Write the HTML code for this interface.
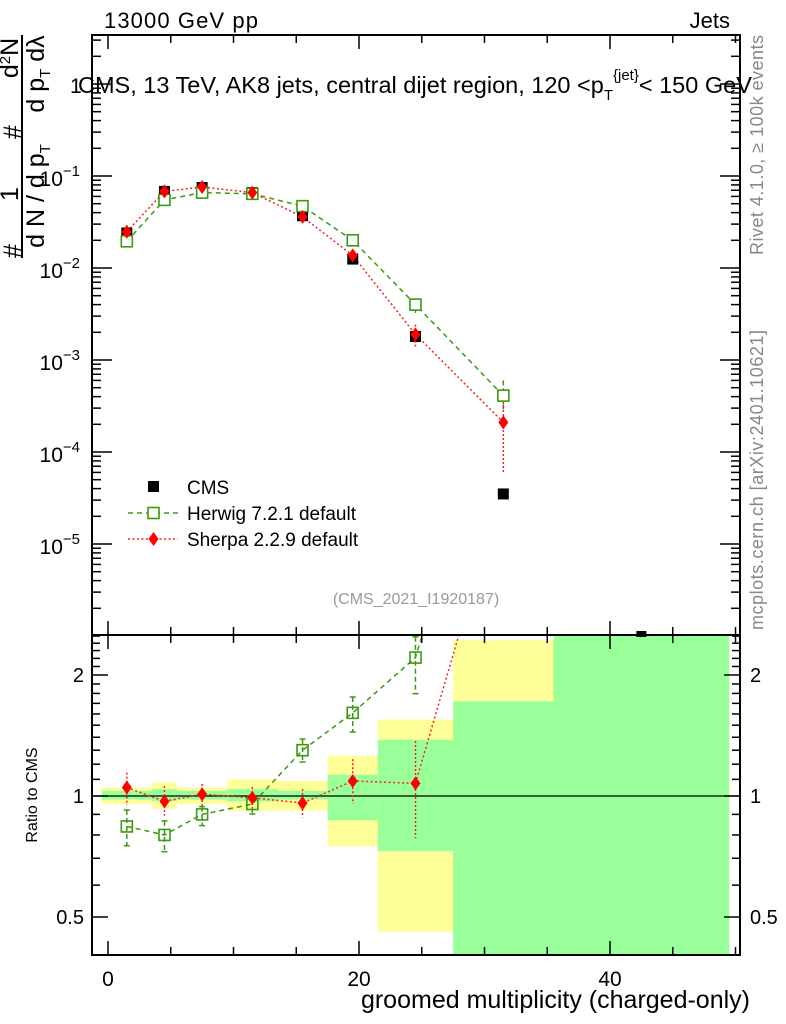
<!DOCTYPE html>
<html><head><meta charset="utf-8"><style>
body{margin:0;background:#fff;}
svg{display:block;font-family:"Liberation Sans",sans-serif;}
</style></head><body>
<svg id="c" width="786" height="1024" viewBox="0 0 786 1024"></svg>
<script>
const binEdges=[-0.5,3.5,5.5,9.5,13.5,17.5,21.5,27.5,35.5,49.5];
const centers=[1.5,4.5,7.5,11.5,15.5,19.5,24.5,31.5];
const cmsVals=[0.024,0.068,0.075,0.066,0.037,0.0125,0.0018,0.000035];
const herwigVals=[0.0195,0.055,0.066,0.064,0.047,0.020,0.0040,0.00041];
const sherpaVals=[0.0248,0.068,0.076,0.066,0.036,0.0137,0.0019,0.00021];
const herwigRatio=[0.84,0.80,0.90,0.955,1.30,1.61,2.21];
const herwigRatioHi=[0.923,0.867,0.941,0.977,1.386,1.763,2.49];
const herwigRatioLo=[0.752,0.727,0.844,0.902,1.215,1.443,1.797];
const sherpaRatio=[1.05,0.97,1.01,0.99,0.96,1.09,1.075];
const sherpaRatioHi=[1.143,1.059,1.071,1.053,1.041,1.234,1.37];
const sherpaRatioLo=[0.95,0.893,0.932,0.932,0.885,0.957,0.785];
const herwigMainHi=[0.00060];const herwigMainLo=[0.00028];
const sherpaMainHi=[0.00035];const sherpaMainLo=[0.00006];
const bandYellowHi=[1.05,1.08,1.05,1.10,1.09,1.26,1.55,2.44,3];
const bandYellowLo=[0.955,0.93,0.955,0.92,0.92,0.75,0.46,0.3,0.3];
const bandGreenHi=[1.03,1.04,1.03,1.04,1.03,1.13,1.38,1.72,3];
const bandGreenLo=[0.98,0.97,0.98,0.97,0.98,0.87,0.73,0.3,0.3];
const xTickLabels=[0,20,40];
const yTickDecades=[-1,-2,-3,-4,-5];
const ratioTickLabels=[0.5,1,2];

const NS="http://www.w3.org/2000/svg";
const svg=document.getElementById('c');
function el(t,a,p){const e=document.createElementNS(NS,t);for(const k in a)e.setAttribute(k,a[k]);(p||svg).appendChild(e);return e;}
const L=92,R=740,T=35,M=635,B=955;
const xs=u=>108+u*12.55;
const ym=v=>176-(Math.log10(v)+1)*92;
const yr=r=>796-Math.log2(r)*121;

const defs=el('defs',{});
const c1=el('clipPath',{id:'cm'},defs);el('rect',{x:L,y:T,width:R-L,height:M-T},c1);
const c2=el('clipPath',{id:'cr'},defs);el('rect',{x:L,y:M,width:R-L,height:B-M},c2);

const gR=el('g',{'clip-path':'url(#cr)'});


for(let i=0;i<binEdges.length-1;i++){
  const x0=xs(binEdges[i]),x1=xs(binEdges[i+1]);
  const y=el('rect',{x:x0,y:yr(bandYellowHi[i]),width:x1-x0,height:yr(bandYellowLo[i])-yr(bandYellowHi[i]),fill:'#ffff99'},gR);
  
  
  const g=el('rect',{x:x0,y:yr(bandGreenHi[i]),width:x1-x0,height:yr(bandGreenLo[i])-yr(bandGreenHi[i]),fill:'#99ff99'},gR);
  
  
}
el('line',{x1:L,x2:R,y1:yr(1),y2:yr(1),stroke:'#000','stroke-width':1.3},gR);

function diamond(g,x,y,s,fill){return el('path',{d:`M${x} ${y-s*1.4}L${x+s} ${y}L${x} ${y+s*1.4}L${x-s} ${y}Z`,fill:fill},g);}
function openSq(g,x,y,col){return el('rect',{x:x-5.5,y:y-5.5,width:11,height:11,fill:'none',stroke:col,'stroke-width':1.6},g);}

const herR=[...herwigRatio, herwigVals[7]/cmsVals[7]];
const sheR=[...sherpaRatio, sherpaVals[7]/cmsVals[7]];
let p=el('polyline',{points:herR.map((r,i)=>xs(centers[i])+','+yr(r)).join(' '),fill:'none',stroke:'#3a9a10','stroke-width':1.5,'stroke-dasharray':'5,4'},gR);

p=el('polyline',{points:sheR.map((r,i)=>xs(centers[i])+','+yr(r)).join(' '),fill:'none',stroke:'#ff2020','stroke-width':1.5,'stroke-dasharray':'2,2.5'},gR);

herwigRatio.forEach((r,i)=>{
  const x=xs(centers[i]);
  el('line',{x1:x,x2:x,y1:yr(herwigRatioHi[i]),y2:yr(herwigRatioLo[i]),stroke:'#3a9a10','stroke-width':1.5,'stroke-dasharray':'5,3'},gR);
  el('line',{x1:x-3,x2:x+3,y1:yr(herwigRatioHi[i]),y2:yr(herwigRatioHi[i]),stroke:'#3a9a10','stroke-width':1.5},gR);
  el('line',{x1:x-3,x2:x+3,y1:yr(herwigRatioLo[i]),y2:yr(herwigRatioLo[i]),stroke:'#3a9a10','stroke-width':1.5},gR);
  const m=openSq(gR,x,yr(r),'#3a9a10');
  
});
sherpaRatio.forEach((r,i)=>{
  const x=xs(centers[i]);
  el('line',{x1:x,x2:x,y1:yr(sherpaRatioHi[i]),y2:yr(sherpaRatioLo[i]),stroke:'#ff2020','stroke-width':1.5,'stroke-dasharray':'2,2'},gR);
  const m=diamond(gR,x,yr(r),5,'#ff0000');
  
});

const gM=el('g',{'clip-path':'url(#cm)'});


p=el('polyline',{points:herwigVals.map((v,i)=>xs(centers[i])+','+ym(v)).join(' '),fill:'none',stroke:'#3a9a10','stroke-width':1.5,'stroke-dasharray':'5,4'},gM);

p=el('polyline',{points:sherpaVals.map((v,i)=>xs(centers[i])+','+ym(v)).join(' '),fill:'none',stroke:'#ff2020','stroke-width':1.5,'stroke-dasharray':'2,2.5'},gM);

cmsVals.forEach((v,i)=>{
  const m=el('rect',{x:xs(centers[i])-5.5,y:ym(v)-5.5,width:11,height:11,fill:'#000'},gM);
  
});
herwigVals.forEach((v,i)=>{
  const x=xs(centers[i]);
  const hi=i<7?v*herwigRatioHi[i]/herwigRatio[i]:herwigMainHi[0];
  const lo=i<7?v*herwigRatioLo[i]/herwigRatio[i]:herwigMainLo[0];
  el('line',{x1:x,x2:x,y1:ym(hi),y2:ym(lo),stroke:'#3a9a10','stroke-width':1.5,'stroke-dasharray':'5,3'},gM);
  const m=el('rect',{x:x-5.5,y:ym(v)-5.5,width:11,height:11,fill:'#fff',stroke:'#3a9a10','stroke-width':1.6},gM);
  
});
sherpaVals.forEach((v,i)=>{
  const x=xs(centers[i]);
  const hi=i<7?v*sherpaRatioHi[i]/sherpaRatio[i]:sherpaMainHi[0];
  const lo=i<7?v*sherpaRatioLo[i]/sherpaRatio[i]:sherpaMainLo[0];
  el('line',{x1:x,x2:x,y1:ym(hi),y2:ym(lo),stroke:'#ff2020','stroke-width':1.5,'stroke-dasharray':'2,2'},gM);
  const m=diamond(gM,x,ym(v),5,'#ff0000');
  
});
let lp=el('rect',{x:xs(42.5)-5,y:M-4,width:10,height:6,fill:'#000'});


let f1=el('rect',{x:L,y:T,width:R-L,height:M-T,fill:'none',stroke:'#000','stroke-width':2});

let f2=el('rect',{x:L,y:M,width:R-L,height:B-M,fill:'none',stroke:'#000','stroke-width':2});


for(let u=0;u<=50;u+=5){
  const x=xs(u),len=u%20===0?14:8;
  [[T,1],[M,-1],[M,1],[B,-1]].forEach(([y,d])=>el('line',{x1:x,x2:x,y1:y,y2:y+d*len,stroke:'#000','stroke-width':1.5}));
}
xTickLabels.forEach(u=>{const t=el('text',{x:xs(u),y:986,'font-size':21,'text-anchor':'middle'});t.textContent=u;
});

for(let d=0;d>=-6;d--){
  for(let k=1;k<10;k++){
    const y=ym(k*Math.pow(10,d));
    if(y<T||y>M)continue;
    const len=k===1?20:9;
    el('line',{x1:L,x2:L+len,y1:y,y2:y,stroke:'#000','stroke-width':1.5});
    el('line',{x1:R,x2:R-len,y1:y,y2:y,stroke:'#000','stroke-width':1.5});
  }
}
yTickDecades.forEach(d=>{
  const t=el('text',{x:80,y:ym(Math.pow(10,d))+10,'font-size':21,'text-anchor':'end'});
  t.innerHTML='10<tspan dy="-10" font-size="15">−'+(-d)+'</tspan>';
  
});
let one=el('text',{x:70,y:93,'font-size':21});one.textContent='1';


[0.4,0.5,0.6,0.7,0.8,0.9,1,1.1,1.2,1.3,1.4,1.5,1.6,1.7,1.8,1.9,2,2.1,2.2,2.3,2.4,2.5].forEach(r=>{
  const y=yr(r);if(y<M||y>B)return;
  const len=(r===0.5||r===1||r===2)?16:8;
  el('line',{x1:L,x2:L+len,y1:y,y2:y,stroke:'#000','stroke-width':1.5});
  el('line',{x1:R,x2:R-len,y1:y,y2:y,stroke:'#000','stroke-width':1.5});
});
ratioTickLabels.forEach(r=>{
  const t=el('text',{x:84,y:yr(r)+7,'font-size':20,'text-anchor':'end'});t.textContent=r;
  
  const t2=el('text',{x:750,y:yr(r)+7,'font-size':20});t2.textContent=r;
  
});
</script>
<svg width="786" height="1024" style="position:absolute;left:0;top:0" font-family="Liberation Sans, sans-serif">
<text x="104" y="28" font-size="22" textLength="154">13000 GeV pp</text>
<text x="730" y="28" font-size="22" text-anchor="end">Jets</text>
<text x="78" y="93" font-size="23.5">CMS, 13 TeV, AK8 jets, central dijet region, 120 &lt;p<tspan dy="7" font-size="15">T</tspan><tspan dy="-20" font-size="15">{jet}</tspan><tspan dy="13">&lt; 150 GeV</tspan></text>
<text transform="translate(763,255) rotate(-90)" font-size="18" fill="#888" textLength="220">Rivet 4.1.0, ≥ 100k events</text>
<text transform="translate(763,630) rotate(-90)" font-size="18" fill="#888" textLength="300">mcplots.cern.ch [arXiv:2401.10621]</text>
<text x="416" y="604" font-size="16" fill="#999" text-anchor="middle">(CMS_2021_I1920187)</text>
<g font-size="19">
<rect x="148" y="481" width="11" height="11" fill="#000"/>
<text x="187" y="494">CMS</text>
<line x1="128" x2="178" y1="513" y2="513" stroke="#3a9a10" stroke-width="1.5" stroke-dasharray="5,4"/>
<rect x="148" y="507.5" width="11" height="11" fill="#fff" stroke="#3a9a10" stroke-width="1.6"/>
<text x="187" y="520">Herwig 7.2.1 default</text>
<line x1="128" x2="178" y1="539" y2="539" stroke="#ff2020" stroke-width="1.5" stroke-dasharray="2,2.5"/>
<path d="M153.5 532L158.5 539L153.5 546L148.5 539Z" fill="#ff0000"/>
<text x="187" y="546">Sherpa 2.2.9 default</text>
</g>
<text x="750" y="1008" font-size="25" text-anchor="end">groomed multiplicity (charged-only)</text>
<text transform="translate(37,795) rotate(-90)" font-size="16" text-anchor="middle">Ratio to CMS</text>
<g font-size="25" text-anchor="middle">
<text transform="translate(18,58) rotate(-90)">d<tspan dy="-8" font-size="15">2</tspan><tspan dy="8">N</tspan></text>
<text transform="translate(18,194) rotate(-90)">1</text>
<text transform="translate(21,132) rotate(-90)">#</text>
<text transform="translate(21,251) rotate(-90)">#</text>
<line x1="22" x2="22" y1="35" y2="258" stroke="#000" stroke-width="2"/>
<text transform="translate(44,74) rotate(-90)">d p<tspan dy="6" font-size="15">T</tspan><tspan dy="-6"> d</tspan>λ</text>
<text transform="translate(44,196) rotate(-90)">d N / d p<tspan dy="6" font-size="15">T</tspan></text>
</g>
</svg>
</body></html>
